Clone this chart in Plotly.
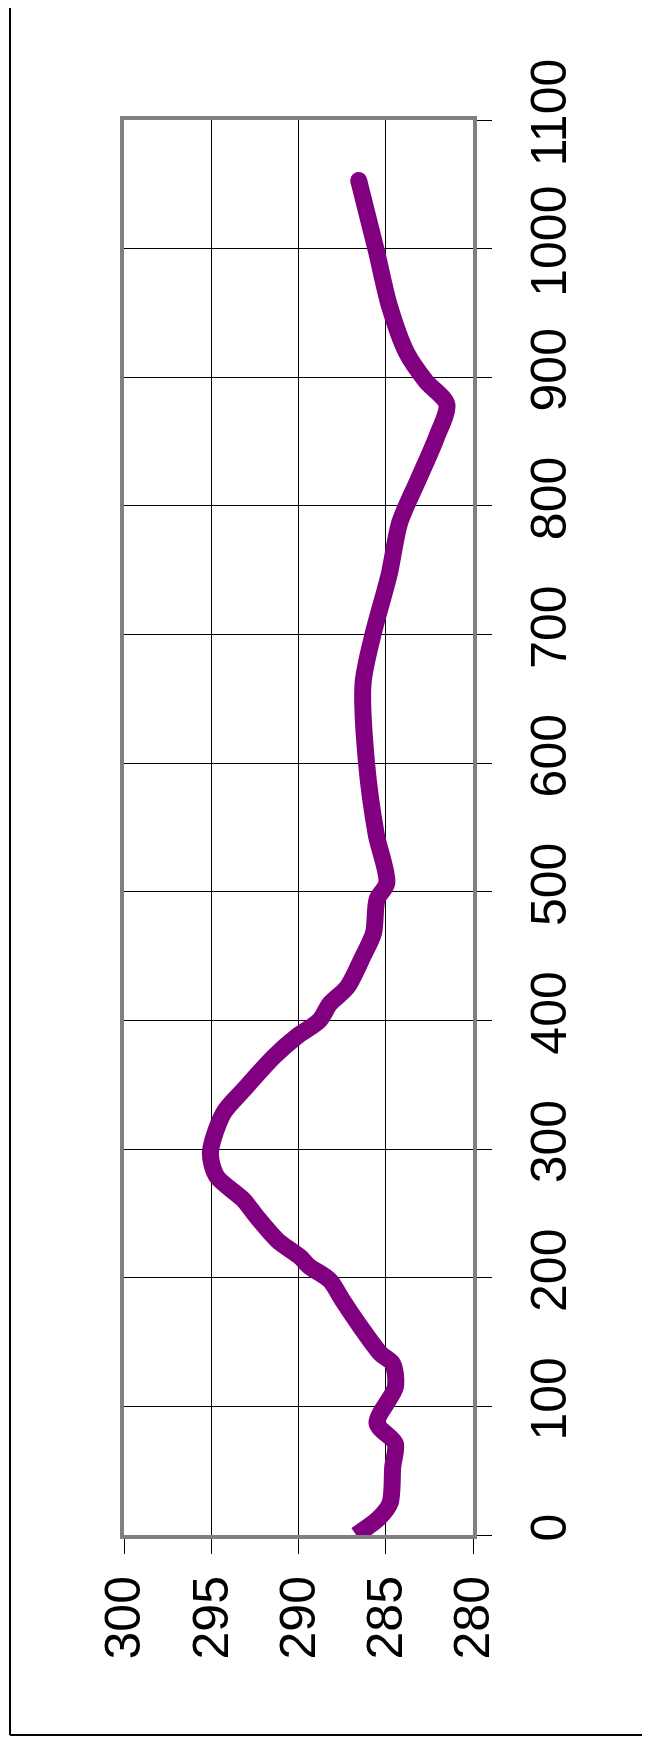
import plotly.graph_objects as go

# distance (vertical axis in the rotated picture) and temperature values
distance = [0, 13, 25, 53, 71, 87, 115, 133, 141, 159, 183, 198, 209, 216, 229,
            247.5, 260.5, 279, 297, 328, 346, 372, 387.5, 400, 413, 426, 450,
            468, 494, 507, 545, 600, 662, 699, 747, 787, 820, 853, 879, 897,
            919, 956, 999, 1053]
temperature = [286.7, 285.4, 284.75, 284.6, 284.45, 285.5, 284.45, 284.6, 285.3,
               286.3, 287.5, 288.2, 289.4, 289.9, 291.2, 292.4, 293.15, 294.7,
               295.05, 294.3, 293.15, 291.4, 290.1, 288.8, 288.2, 287.2, 286.3,
               285.7, 285.5, 284.94, 285.55, 286.1, 286.3, 285.75, 284.8, 284.2,
               283.15, 282.1, 281.5, 282.7, 283.8, 284.8, 285.55, 286.55]

temp_ticks = [300, 295, 290, 285, 280]
dist_ticks = [0, 100, 200, 300, 400, 500, 600, 700, 800, 900, 1000, 1100]

# page body has an 8px margin, so positions are relative to (8, 8)
W, H = 650, 1743
L, R, T, B = 116, 465, 112, 1527

fig = go.Figure()
fig.add_trace(go.Scatter(
    x=temperature, y=distance, mode="lines",
    line=dict(color="#800080", width=17, shape="spline", smoothing=0.8),
    showlegend=False, hoverinfo="skip"))
fig.add_trace(go.Scatter(
    x=[temperature[-1]], y=[distance[-1]], mode="markers",
    marker=dict(color="#800080", size=17, line=dict(width=0)),
    showlegend=False, hoverinfo="skip"))

font = dict(family="Liberation Sans, Arial, sans-serif", size=50, color="#000000")

fig.update_layout(
    width=W, height=H,
    margin=dict(l=L, r=W - R, t=T, b=H - B, pad=0),
    paper_bgcolor="white", plot_bgcolor="white",
    xaxis=dict(
        range=[300, 280], tickvals=temp_ticks, ticktext=[str(v) for v in temp_ticks],
        tickangle=-90, tickfont=font, ticks="outside", ticklen=15, tickwidth=1,
        tickcolor="#000000", showgrid=True, gridcolor="#000000", gridwidth=1,
        showline=True, linecolor="#808080", linewidth=4, mirror=True,
        zeroline=False, ticklabelstandoff=2, fixedrange=True),
    yaxis=dict(
        range=[0, 1100], tickvals=dist_ticks, ticktext=[str(v) for v in dist_ticks],
        side="right", tickangle=-90, tickfont=font, ticks="outside", ticklen=15,
        tickwidth=1, tickcolor="#000000", showgrid=True, gridcolor="#000000",
        gridwidth=1, showline=True, linecolor="#808080", linewidth=4, mirror=True,
        zeroline=False, ticklabelstandoff=14, fixedrange=True),
)

pw, ph = R - L, B - T
def px(xp):
    return (xp - L) / pw
def py(yp):
    return (B - yp) / ph

fig.add_shape(type="line", xref="paper", yref="paper",
              x0=px(2), x1=px(2), y0=py(1727), y1=1.3,
              line=dict(color="#000000", width=2))
fig.add_shape(type="line", xref="paper", yref="paper",
              x0=px(2), x1=1.7, y0=py(1727), y1=py(1727),
              line=dict(color="#000000", width=2))

fig.write_html("out.html")
